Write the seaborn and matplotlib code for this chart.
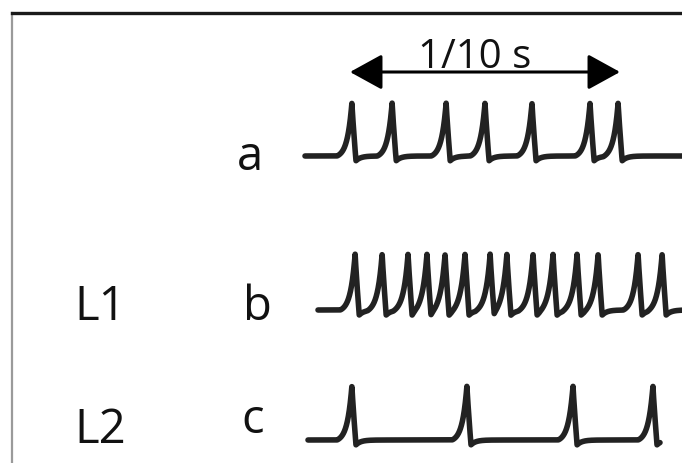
import numpy as np
import pandas as pd
import matplotlib
matplotlib.use("Agg")
import matplotlib.pyplot as plt
import seaborn as sns

# ---- data (spike times in ms, scale bar = 100 ms) ----
spikes_a = [0.7, 15.6, 35.6, 50.0, 67.4, 88.9, 99.3]
spikes_b = [1.9, 11.9, 21.5, 28.5, 35.2, 42.6, 51.9, 58.1, 67.8, 75.2, 84.1, 91.9, 106.7, 115.6]
spikes_c = [0.7, 43.3, 82.6, 112.2]
trace_names = ["a", "b", "c"]
row_labels = ["", "L1", "L2"]
scale_bar_ms = 100
scale_bar_label = "1/10 s"

# ---- style ----
sns.set_theme(style="white")
plt.rcParams["font.family"] = ["Open Sans", "DejaVu Sans"]

fig = plt.figure(figsize=(6.82, 4.64), dpi=100)
ax = fig.add_axes([12 / 682, 0, 1 - 12 / 682, (464 - 14) / 464])
PX = 2.7  # px per ms
ax.set_xlim((12 - 350) / PX, (682 - 350) / PX)
ax.set_ylim(464, 14)

def trace(times, t0, t1, base, h):
    t = np.linspace(t0, t1, 4000)
    y = np.zeros_like(t)
    R, tr = 5.5, 1.7       # rise window / time constant (ms)
    F = 1.5                # fall duration
    u, td = 0.09, 1.8      # undershoot
    for s in times:
        dx = t - s
        m = (dx >= -R) & (dx <= 0)
        y[m] += (np.exp(dx[m] / tr) - np.exp(-R / tr)) / (1 - np.exp(-R / tr))
        m = (dx > 0) & (dx <= F)
        y[m] += 1 - (1 + u) * (dx[m] / F) ** 0.9
        m = dx > F
        y[m] += -u * np.exp(-(dx[m] - F) / td)
    return pd.DataFrame({"t": t, "y": base - h * y})

rows = [
    (spikes_a, (305 - 350) / PX, (682 - 350) / PX, 157, 53),
    (spikes_b, (318 - 350) / PX, (682 - 350) / PX, 311, 56),
    (spikes_c, (308 - 350) / PX, (660 - 350) / PX, 441, 54),
]
for spk, t0, t1, base, h in rows:
    df = trace(spk, t0, t1, base, h)
    sns.lineplot(data=df, x="t", y="y", ax=ax, color="#222222", lw=4.0,
                 sort=False, estimator=None)

# labels
fs = 34
tc = "#111111"
ax.text(-37.0, 170, trace_names[0], fontsize=fs, ha="center", va="baseline", color=tc)
ax.text(-34.1, 320, trace_names[1], fontsize=fs, ha="center", va="baseline", color=tc)
ax.text(-35.9, 433, trace_names[2], fontsize=fs, ha="center", va="baseline", color=tc)
ax.text(-92.6, 320, row_labels[1], fontsize=fs, ha="center", va="baseline", color=tc)
ax.text(-92.6, 443, row_labels[2], fontsize=fs, ha="center", va="baseline", color=tc)

# scale bar
ax.annotate("", xy=(0, 73), xytext=(scale_bar_ms, 73),
            arrowprops=dict(arrowstyle="<|-|>,head_length=1.0,head_width=0.55",
                            mutation_scale=20, lw=2.2, color="black",
                            shrinkA=0, shrinkB=0))
ax.text(46.3, 68, scale_bar_label, fontsize=29, ha="center", va="baseline", color=tc)

ax.set_xticks([]); ax.set_yticks([])
ax.set_xlabel(""); ax.set_ylabel("")
for s in ["right", "bottom"]:
    ax.spines[s].set_visible(False)
ax.spines["top"].set_color("#1a1a1a"); ax.spines["top"].set_linewidth(2.4)
ax.spines["left"].set_color("#9a9a9a"); ax.spines["left"].set_linewidth(1.6)
ax.set_facecolor("white")

fig.savefig("out.png", dpi=100, facecolor="white")
